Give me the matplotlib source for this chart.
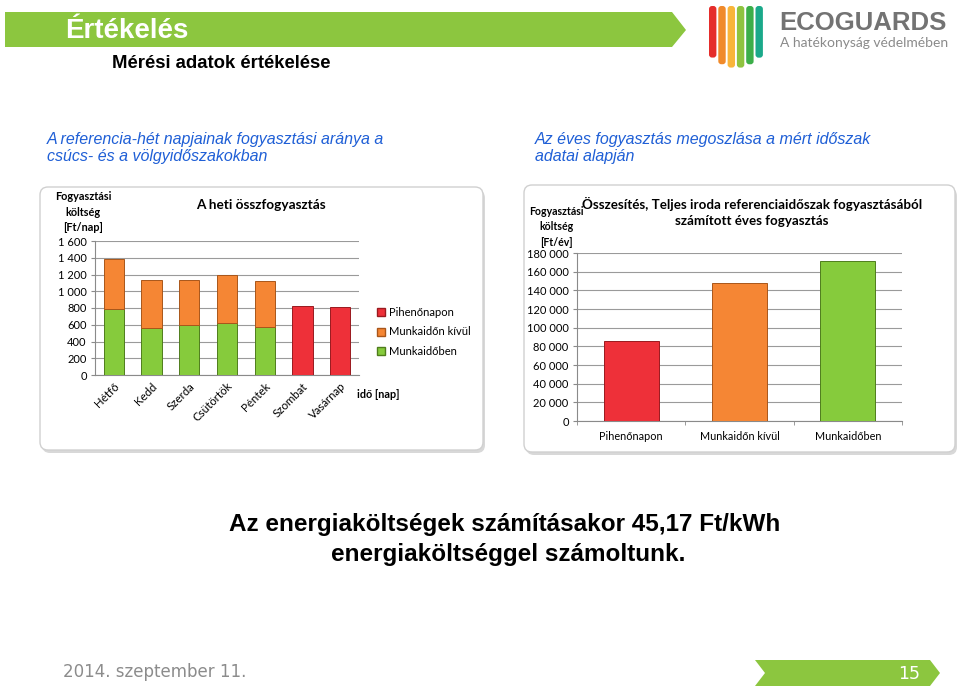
import matplotlib
matplotlib.use("Agg")
import matplotlib.pyplot as plt
from matplotlib.patches import Polygon, FancyBboxPatch
from matplotlib.lines import Line2D
from matplotlib.ticker import FuncFormatter, FixedLocator

# ---------------- data ----------------
days = ["Hétfő", "Kedd", "Szerda", "Csütörtök", "Péntek", "Szombat", "Vasárnap"]
munkaidoben = [790, 565, 600, 625, 575, 0, 0]
munkaidon_kivul = [600, 565, 540, 565, 545, 0, 0]
pihenonapon = [0, 0, 0, 0, 0, 820, 810]

annual_cats = ["Pihenőnapon", "Munkaidőn kívül", "Munkaidőben"]
annual_vals = [85700, 147700, 171000]

legend_labels = ["Pihenőnapon", "Munkaidőn kívül", "Munkaidőben"]

GREEN = "#8cc63f"
BAR_GREEN = "#86cb3c"
BAR_ORANGE = "#f58634"
BAR_RED = "#ee3039"

W, H = 960, 692
fig = plt.figure(figsize=(9.6, 6.92), dpi=100)
fig.patch.set_facecolor("white")

def fx(x):
    return x / W

def fy(y):
    return 1 - y / H

bg = fig.add_axes([0, 0, 1, 1])
bg.set_xlim(0, W)
bg.set_ylim(H, 0)
bg.axis("off")

SANS = ["Liberation Sans", "DejaVu Sans"]
CHART = ["Lato", "DejaVu Sans"]

# ---------------- header banner ----------------
bg.add_patch(Polygon([(5, 12), (672, 12), (686, 30), (672, 47), (5, 47)],
                     closed=True, facecolor=GREEN, edgecolor="none"))
bg.text(65, 31, "Értékelés", color="white", fontsize=20, fontweight="bold",
        family=SANS, va="center", ha="left")
bg.text(112, 64, "Mérési adatok értékelése", color="black", fontsize=13.3,
        fontweight="bold", family=SANS, va="center", ha="left")

# logo stripes
stripe_cols = ["#e52d2b", "#f08a2a", "#f9b53a", "#8fc33f", "#3cae49", "#1aa98a"]
x0 = 709
sw = 7.4
gap = 1.9
for i, c in enumerate(stripe_cols):
    xs = x0 + i * (sw + gap)
    cx = (xs + sw / 2 - 736) / 27.0
    bottom = 68 - 14 * cx * cx
    bg.add_patch(FancyBboxPatch((xs, 6), sw, bottom - 6,
                                boxstyle="round,pad=0,rounding_size=3",
                                facecolor=c, edgecolor="none"))
bg.text(779, 23, "ECOGUARDS", color="#737373", fontsize=18.5, fontweight="bold",
        family=SANS, va="center", ha="left")
bg.text(780, 43, "A hatékonyság védelmében", color="#8a8a8a", fontsize=10,
        family=["Lato", "DejaVu Sans"], va="center", ha="left")

# blue subtitles
BLUE = "#1f5fd6"
bg.text(47, 148, "A referencia-hét napjainak fogyasztási aránya a\ncsúcs- és a völgyidőszakokban",
        color=BLUE, fontsize=11.5, style="italic", family=SANS, va="center", ha="left",
        linespacing=1.12)
bg.text(535, 148, "Az éves fogyasztás megoszlása a mért időszak\nadatai alapján",
        color=BLUE, fontsize=11.5, style="italic", family=SANS, va="center", ha="left",
        linespacing=1.12)

# chart frames
for (x1, y1, x2, y2) in [(40, 187, 483, 450), (524, 185, 955, 452)]:
    bg.add_patch(FancyBboxPatch((x1 + 2, y1 + 3), x2 - x1, y2 - y1,
                                boxstyle="round,pad=0,rounding_size=8",
                                facecolor="#c8c8c8", edgecolor="none", alpha=0.7))
    bg.add_patch(FancyBboxPatch((x1, y1), x2 - x1, y2 - y1,
                                boxstyle="round,pad=0,rounding_size=8",
                                facecolor="white", edgecolor="#d0d0d0", linewidth=1.0))

# bottom text
bg.text(505, 525, "Az energiaköltségek számításakor 45,17 Ft/kWh", color="black",
        fontsize=17.5, fontweight="bold", family=SANS, ha="center", va="center")
bg.text(508, 554, "energiaköltséggel számoltunk.", color="black",
        fontsize=17.5, fontweight="bold", family=SANS, ha="center", va="center")

# footer
bg.text(63, 672, "2014. szeptember 11.", color="#8c8c8c", fontsize=12,
        family=["DejaVu Sans"], ha="left", va="center")
bg.add_patch(Polygon([(755, 660), (930, 660), (940, 673), (930, 686), (755, 686), (765, 673)],
                     closed=True, facecolor=GREEN, edgecolor="none"))
bg.text(920, 674, "15", color="white", fontsize=12.5, family=["DejaVu Sans"],
        ha="right", va="center")

def space_fmt(v, pos):
    v = int(round(v))
    if v < 1000:
        return str(v)
    return f"{v:,}".replace(",", " ")

# ---------------- left chart ----------------
ax1 = fig.add_axes([fx(95), fy(375), fx(359 - 95), (375 - 241) / H])
x = list(range(len(days)))
bw = 0.54
ax1.bar(x, munkaidoben, width=bw, color=BAR_GREEN, edgecolor="#4f7d1c", linewidth=0.7, zorder=3)
ax1.bar(x, munkaidon_kivul, width=bw, bottom=munkaidoben, color=BAR_ORANGE,
        edgecolor="#a9561a", linewidth=0.7, zorder=3)
ax1.bar(x, pihenonapon, width=bw, color=BAR_RED, edgecolor="#9a1a1f", linewidth=0.7, zorder=3)
for c in ax1.containers:
    for r in c:
        if r.get_height() == 0:
            r.set_visible(False)
ax1.set_xlim(-0.5, len(days) - 0.5)
ax1.set_ylim(0, 1600)
ax1.yaxis.set_major_locator(FixedLocator(range(0, 1601, 200)))
ax1.yaxis.set_major_formatter(FuncFormatter(space_fmt))
ax1.grid(axis="y", color="#9a9a9a", linewidth=0.8, zorder=0)
for s in ["top", "right"]:
    ax1.spines[s].set_visible(False)
ax1.spines["left"].set_color("#8a8a8a")
ax1.spines["bottom"].set_color("#8a8a8a")
ax1.set_xticks(x)
ax1.set_xticklabels(days, rotation=45, ha="right", rotation_mode="anchor",
                    fontsize=8.3, family=CHART)
ax1.tick_params(axis="x", length=0, pad=4)
ax1.tick_params(axis="y", length=3, color="#8a8a8a", labelsize=8, pad=3)
for t in ax1.get_yticklabels():
    t.set_family(CHART)
bg.text(261, 205, "A heti összfogyasztás", fontsize=9.8, fontweight="bold",
        family=CHART, ha="center", va="center")
bg.text(83, 212, "Fogyasztási\nköltség\n[Ft/nap]", fontsize=7.8, fontweight="bold",
        family=CHART, ha="center", va="center", linespacing=1.55)
bg.text(357, 394, "idő [nap]", fontsize=7.8, fontweight="bold", family=CHART,
        ha="left", va="center")
handles = [Line2D([0], [0], marker="s", linestyle="none", markersize=5.5,
                  markerfacecolor=c, markeredgecolor=e)
           for c, e in [(BAR_RED, "#9a1a1f"), (BAR_ORANGE, "#a9561a"), (BAR_GREEN, "#4f7d1c")]]
leg = ax1.legend(handles, legend_labels, loc="center left", bbox_to_anchor=(fx(372), fy(332)),
                 bbox_transform=fig.transFigure, frameon=False, fontsize=8,
                 handletextpad=0.3, labelspacing=0.75, handlelength=0.8, borderaxespad=0)
for t in leg.get_texts():
    t.set_family(CHART)

# ---------------- right chart ----------------
ax2 = fig.add_axes([fx(577), fy(421), fx(902 - 577), (421 - 253) / H])
x2 = list(range(len(annual_cats)))
cols = [BAR_RED, BAR_ORANGE, BAR_GREEN]
edges = ["#9a1a1f", "#a9561a", "#4f7d1c"]
ax2.bar(x2, annual_vals, width=0.51, color=cols, edgecolor=edges, linewidth=0.7, zorder=3)
ax2.set_xlim(-0.5, 2.5)
ax2.set_ylim(0, 180000)
ax2.yaxis.set_major_locator(FixedLocator(range(0, 180001, 20000)))
ax2.yaxis.set_major_formatter(FuncFormatter(space_fmt))
ax2.grid(axis="y", color="#9a9a9a", linewidth=0.8, zorder=0)
for s in ["top", "right"]:
    ax2.spines[s].set_visible(False)
ax2.spines["left"].set_color("#8a8a8a")
ax2.spines["bottom"].set_color("#8a8a8a")
ax2.set_xticks(x2)
ax2.set_xticklabels(annual_cats, fontsize=7.8, family=CHART)
ax2.set_xticks([-0.5, 0.5, 1.5, 2.5], minor=True)
ax2.tick_params(axis="x", which="major", length=0, pad=7)
ax2.tick_params(axis="x", which="minor", length=3, color="#8a8a8a")
ax2.tick_params(axis="y", length=3, color="#8a8a8a", labelsize=8, pad=3)
for t in ax2.get_yticklabels():
    t.set_family(CHART)
bg.text(752, 212, "Összesítés, Teljes iroda referenciaidőszak fogyasztásából\nszámított éves fogyasztás",
        fontsize=9.6, fontweight="bold", family=CHART, ha="center", va="center",
        linespacing=1.4)
bg.text(556, 227, "Fogyasztási\nköltség\n[Ft/év]", fontsize=7.6, fontweight="bold",
        family=CHART, ha="center", va="center", linespacing=1.45)

fig.savefig("out.png", dpi=100)
